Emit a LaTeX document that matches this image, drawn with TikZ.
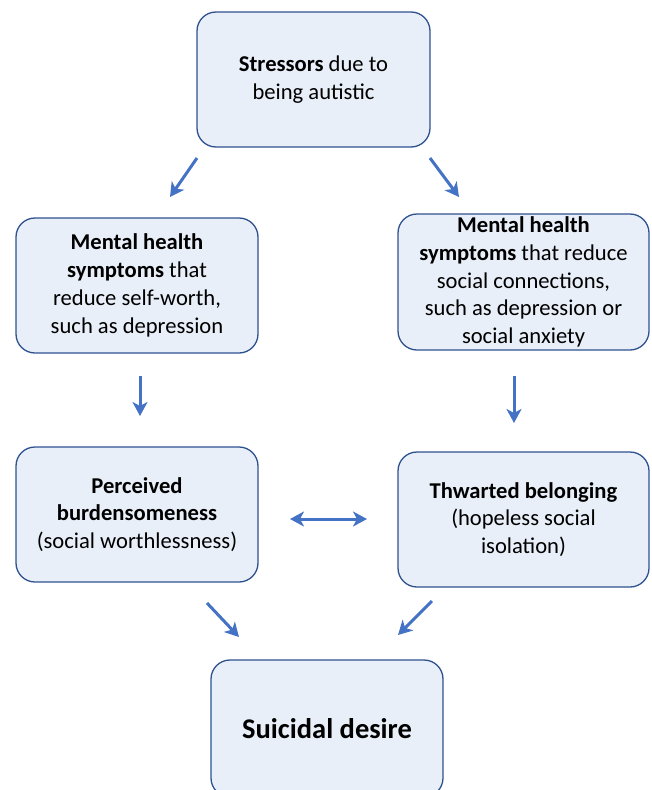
\documentclass[tikz,border=0pt]{standalone}
\usepackage{fontspec}
\setmainfont{Carlito}
\usetikzlibrary{arrows.meta}
\definecolor{boxfill}{HTML}{E9EFF8}
\definecolor{boxline}{HTML}{2F528F}
\definecolor{arrowblue}{HTML}{4472C4}
\begin{document}
\begin{tikzpicture}[x=1pt,y=-1pt]
		\tikzstyle{every node}+=[inner sep=0pt]
		\tikzstyle{block}=[draw=boxline, fill=boxfill, line width=1.3pt, rounded corners=19pt, align=center, font=\fontsize{22.6}{27.8}\selectfont]
		\tikzstyle{link}=[draw=arrowblue, line width=3pt, -{Stealth[length=14pt,width=15pt,inset=4pt]}]
		\useasboundingbox (0,0) rectangle (651,790);
		\clip (0,0) rectangle (651,790);
		\node [block, minimum width=233pt, minimum height=135pt] (stress) at (313.5,79.5) {\textbf{Stressors} due to\\being autistic};
		\node [block, minimum width=242pt, minimum height=135pt] (symL) at (137,285.5) {\textbf{Mental health}\\\textbf{symptoms} that\\reduce self-worth,\\such as depression};
		\node [block, minimum width=251pt, minimum height=136pt] (symR) at (523.5,282) {\textbf{Mental health}\\\textbf{symptoms} that reduce\\social connections,\\such as depression or\\social anxiety};
		\node [block, minimum width=242pt, minimum height=135pt] (burden) at (137,514.5) {\textbf{Perceived}\\\textbf{burdensomeness}\\(social worthlessness)};
		\node [block, minimum width=251pt, minimum height=135pt] (thwart) at (523.5,519.5) {\textbf{Thwarted belonging}\\(hopeless social\\isolation)};
		\node [block, minimum width=232pt, minimum height=137pt, font=\fontsize{28.5}{34}\selectfont\bfseries] (desire) at (327,728.5) {Suicidal desire};
		% arrow ends
		\coordinate (stressL) at (197,158);
		\coordinate (symLtop) at (170,197);
		\coordinate (stressR) at (430,158);
		\coordinate (symRtop) at (459,197);
		\coordinate (symLbot) at (140,376);
		\coordinate (burdenTop) at (140,416);
		\coordinate (symRbot) at (514,376);
		\coordinate (thwartTop) at (514,423);
		\coordinate (burdenR) at (290,519);
		\coordinate (thwartL) at (367,519);
		\coordinate (burdenBot) at (207,603);
		\coordinate (desireL) at (239,637);
		\coordinate (thwartBot) at (432,601);
		\coordinate (desireR) at (398,635);
		\draw [link] (stressL) -- (symLtop);
		\draw [link] (stressR) -- (symRtop);
		\draw [link] (symLbot) -- (burdenTop);
		\draw [link] (symRbot) -- (thwartTop);
		\draw [link, {Stealth[length=14pt,width=15pt,inset=4pt]}-{Stealth[length=14pt,width=15pt,inset=4pt]}] (burdenR) -- (thwartL);
		\draw [link] (burdenBot) -- (desireL);
		\draw [link] (thwartBot) -- (desireR);
\end{tikzpicture}
\end{document}
